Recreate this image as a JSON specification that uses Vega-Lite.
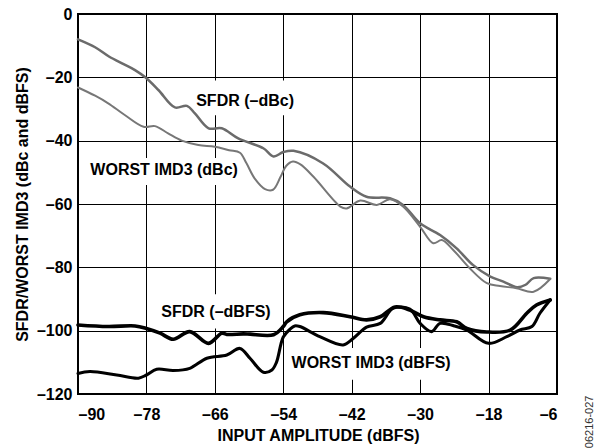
{
  "$schema": "https://vega.github.io/schema/vega-lite/v6.json",
  "width": 479,
  "height": 380,
  "autosize": {"type": "none"},
  "padding": {"left": 78, "top": 14, "right": 38, "bottom": 54},
  "background": "white",
  "config": {
    "view": {"stroke": "black", "strokeWidth": 2},
    "font": "Liberation Sans",
    "axis": {
      "grid": true, "gridColor": "black", "gridWidth": 1, "gridOpacity": 1,
      "domain": false, "ticks": false,
      "labelFont": "Liberation Sans", "labelFontSize": 16, "labelFontWeight": "bold", "labelColor": "black",
      "titleFont": "Liberation Sans", "titleFontSize": 16, "titleFontWeight": "bold", "titleColor": "black"
    }
  },
  "datasets": {
    "curves": [
      {"series": "SFDR dBc", "x": -90, "y": -8},
      {"series": "SFDR dBc", "x": -87, "y": -10.5},
      {"series": "SFDR dBc", "x": -84.5, "y": -13.5},
      {"series": "SFDR dBc", "x": -82, "y": -15.8},
      {"series": "SFDR dBc", "x": -80, "y": -17.7},
      {"series": "SFDR dBc", "x": -78.2, "y": -20},
      {"series": "SFDR dBc", "x": -75.9, "y": -24},
      {"series": "SFDR dBc", "x": -73, "y": -29.5},
      {"series": "SFDR dBc", "x": -70.9, "y": -29},
      {"series": "SFDR dBc", "x": -69.5, "y": -31.4},
      {"series": "SFDR dBc", "x": -67.1, "y": -36.1},
      {"series": "SFDR dBc", "x": -64.8, "y": -36.1},
      {"series": "SFDR dBc", "x": -61.9, "y": -39.3},
      {"series": "SFDR dBc", "x": -57.5, "y": -42.4},
      {"series": "SFDR dBc", "x": -55.7, "y": -45},
      {"series": "SFDR dBc", "x": -54, "y": -43.6},
      {"series": "SFDR dBc", "x": -52.2, "y": -43.2},
      {"series": "SFDR dBc", "x": -47, "y": -47.2},
      {"series": "SFDR dBc", "x": -42.3, "y": -54.5},
      {"series": "SFDR dBc", "x": -39.4, "y": -57.7},
      {"series": "SFDR dBc", "x": -35.3, "y": -58.2},
      {"series": "SFDR dBc", "x": -33, "y": -60.3},
      {"series": "SFDR dBc", "x": -30, "y": -66.1},
      {"series": "SFDR dBc", "x": -26.5, "y": -69.8},
      {"series": "SFDR dBc", "x": -23.6, "y": -74},
      {"series": "SFDR dBc", "x": -20.7, "y": -79.3},
      {"series": "SFDR dBc", "x": -17.7, "y": -82.9},
      {"series": "SFDR dBc", "x": -15.4, "y": -84.5},
      {"series": "SFDR dBc", "x": -13, "y": -86.3},
      {"series": "SFDR dBc", "x": -11.5, "y": -85.5},
      {"series": "SFDR dBc", "x": -10.1, "y": -83.4},
      {"series": "SFDR dBc", "x": -7.2, "y": -83.6},

      {"series": "IMD3 dBc", "x": -90, "y": -23.2},
      {"series": "IMD3 dBc", "x": -87, "y": -25.8},
      {"series": "IMD3 dBc", "x": -84.7, "y": -28.2},
      {"series": "IMD3 dBc", "x": -81.8, "y": -31.9},
      {"series": "IMD3 dBc", "x": -78.5, "y": -35.6},
      {"series": "IMD3 dBc", "x": -76.5, "y": -35.4},
      {"series": "IMD3 dBc", "x": -74.2, "y": -37.7},
      {"series": "IMD3 dBc", "x": -71.8, "y": -40},
      {"series": "IMD3 dBc", "x": -68.9, "y": -41.4},
      {"series": "IMD3 dBc", "x": -66, "y": -41.9},
      {"series": "IMD3 dBc", "x": -63.5, "y": -43},
      {"series": "IMD3 dBc", "x": -61.6, "y": -43.8},
      {"series": "IMD3 dBc", "x": -60.5, "y": -47},
      {"series": "IMD3 dBc", "x": -59, "y": -52},
      {"series": "IMD3 dBc", "x": -57.2, "y": -55.3},
      {"series": "IMD3 dBc", "x": -55.8, "y": -55.5},
      {"series": "IMD3 dBc", "x": -54.5, "y": -51.5},
      {"series": "IMD3 dBc", "x": -53.5, "y": -48},
      {"series": "IMD3 dBc", "x": -52.3, "y": -46.6},
      {"series": "IMD3 dBc", "x": -51, "y": -47.5},
      {"series": "IMD3 dBc", "x": -48.7, "y": -51.4},
      {"series": "IMD3 dBc", "x": -44, "y": -60.8},
      {"series": "IMD3 dBc", "x": -42.9, "y": -61.4},
      {"series": "IMD3 dBc", "x": -40.5, "y": -58.9},
      {"series": "IMD3 dBc", "x": -37.6, "y": -60.3},
      {"series": "IMD3 dBc", "x": -35.3, "y": -58.5},
      {"series": "IMD3 dBc", "x": -33, "y": -60.8},
      {"series": "IMD3 dBc", "x": -30, "y": -67.2},
      {"series": "IMD3 dBc", "x": -27.7, "y": -72.4},
      {"series": "IMD3 dBc", "x": -26.2, "y": -71.4},
      {"series": "IMD3 dBc", "x": -24.2, "y": -74.5},
      {"series": "IMD3 dBc", "x": -21.3, "y": -80.3},
      {"series": "IMD3 dBc", "x": -18.3, "y": -85},
      {"series": "IMD3 dBc", "x": -16, "y": -85.9},
      {"series": "IMD3 dBc", "x": -13.1, "y": -86.6},
      {"series": "IMD3 dBc", "x": -10.1, "y": -87.7},
      {"series": "IMD3 dBc", "x": -7.2, "y": -83.7},

      {"series": "SFDR dBFS", "x": -90, "y": -98.2},
      {"series": "SFDR dBFS", "x": -84.7, "y": -98.7},
      {"series": "SFDR dBFS", "x": -80, "y": -98.5},
      {"series": "SFDR dBFS", "x": -78, "y": -99.3},
      {"series": "SFDR dBFS", "x": -75.6, "y": -100.8},
      {"series": "SFDR dBFS", "x": -73.3, "y": -102.7},
      {"series": "SFDR dBFS", "x": -70.4, "y": -100.3},
      {"series": "SFDR dBFS", "x": -67.1, "y": -104},
      {"series": "SFDR dBFS", "x": -64.8, "y": -100.8},
      {"series": "SFDR dBFS", "x": -63.9, "y": -101.2},
      {"series": "SFDR dBFS", "x": -61, "y": -101},
      {"series": "SFDR dBFS", "x": -59.8, "y": -101.1},
      {"series": "SFDR dBFS", "x": -55.7, "y": -101.3},
      {"series": "SFDR dBFS", "x": -54, "y": -98.7},
      {"series": "SFDR dBFS", "x": -53.4, "y": -97.2},
      {"series": "SFDR dBFS", "x": -51.1, "y": -95},
      {"series": "SFDR dBFS", "x": -47, "y": -94.3},
      {"series": "SFDR dBFS", "x": -42.3, "y": -95.6},
      {"series": "SFDR dBFS", "x": -39.4, "y": -96.6},
      {"series": "SFDR dBFS", "x": -37, "y": -95.6},
      {"series": "SFDR dBFS", "x": -34.4, "y": -92.5},
      {"series": "SFDR dBFS", "x": -31.8, "y": -93.5},
      {"series": "SFDR dBFS", "x": -29.4, "y": -95.6},
      {"series": "SFDR dBFS", "x": -26.5, "y": -96.6},
      {"series": "SFDR dBFS", "x": -23.6, "y": -97.2},
      {"series": "SFDR dBFS", "x": -21.8, "y": -99.3},
      {"series": "SFDR dBFS", "x": -18.3, "y": -100.4},
      {"series": "SFDR dBFS", "x": -14.2, "y": -99.8},
      {"series": "SFDR dBFS", "x": -11.3, "y": -94.5},
      {"series": "SFDR dBFS", "x": -9.6, "y": -91.9},
      {"series": "SFDR dBFS", "x": -7.2, "y": -90.3},

      {"series": "IMD3 dBFS", "x": -90, "y": -113.5},
      {"series": "IMD3 dBFS", "x": -87.9, "y": -112.9},
      {"series": "IMD3 dBFS", "x": -83.2, "y": -114},
      {"series": "IMD3 dBFS", "x": -79.4, "y": -115},
      {"series": "IMD3 dBFS", "x": -78, "y": -114},
      {"series": "IMD3 dBFS", "x": -76.2, "y": -112.2},
      {"series": "IMD3 dBFS", "x": -73.3, "y": -112.6},
      {"series": "IMD3 dBFS", "x": -70.4, "y": -111.9},
      {"series": "IMD3 dBFS", "x": -67.4, "y": -108.7},
      {"series": "IMD3 dBFS", "x": -63.9, "y": -107.7},
      {"series": "IMD3 dBFS", "x": -61.6, "y": -105.6},
      {"series": "IMD3 dBFS", "x": -59.8, "y": -108.8},
      {"series": "IMD3 dBFS", "x": -57.5, "y": -113.1},
      {"series": "IMD3 dBFS", "x": -56, "y": -112.4},
      {"series": "IMD3 dBFS", "x": -55.2, "y": -110},
      {"series": "IMD3 dBFS", "x": -54, "y": -102},
      {"series": "IMD3 dBFS", "x": -52.8, "y": -99.5},
      {"series": "IMD3 dBFS", "x": -52, "y": -98.5},
      {"series": "IMD3 dBFS", "x": -51.1, "y": -98.7},
      {"series": "IMD3 dBFS", "x": -47.6, "y": -101.9},
      {"series": "IMD3 dBFS", "x": -43.5, "y": -104.5},
      {"series": "IMD3 dBFS", "x": -41.7, "y": -102.4},
      {"series": "IMD3 dBFS", "x": -39.4, "y": -98.9},
      {"series": "IMD3 dBFS", "x": -37, "y": -97.7},
      {"series": "IMD3 dBFS", "x": -34.7, "y": -92.9},
      {"series": "IMD3 dBFS", "x": -31.8, "y": -93.2},
      {"series": "IMD3 dBFS", "x": -30, "y": -97.7},
      {"series": "IMD3 dBFS", "x": -28, "y": -100.3},
      {"series": "IMD3 dBFS", "x": -26.5, "y": -97.7},
      {"series": "IMD3 dBFS", "x": -24, "y": -98.5},
      {"series": "IMD3 dBFS", "x": -21.8, "y": -99.8},
      {"series": "IMD3 dBFS", "x": -18, "y": -104},
      {"series": "IMD3 dBFS", "x": -14.8, "y": -101.9},
      {"series": "IMD3 dBFS", "x": -12.5, "y": -99.8},
      {"series": "IMD3 dBFS", "x": -10.4, "y": -98.7},
      {"series": "IMD3 dBFS", "x": -9, "y": -94.5},
      {"series": "IMD3 dBFS", "x": -7.2, "y": -90.3}
    ],
    "boxes": [
      {"x": -69.5, "x2": -51.8, "y": -21, "y2": -32},
      {"x": -88.5, "x2": -60.8, "y": -45.5, "y2": -54},
      {"x": -75.8, "x2": -55.8, "y": -88.5, "y2": -99.3},
      {"x": -52.5, "x2": -23.5, "y": -105.5, "y2": -115.5}
    ],
    "labels": [
      {"x": -60.7, "y": -27.4, "text": "SFDR (–dBc)"},
      {"x": -74.9, "y": -49.3, "text": "WORST IMD3 (dBc)"},
      {"x": -65.8, "y": -94, "text": "SFDR (–dBFS)"},
      {"x": -38.6, "y": -110.3, "text": "WORST IMD3 (dBFS)"}
    ]
  },
  "layer": [
    {
      "data": {"name": "boxes"},
      "mark": {"type": "rect", "fill": "white", "stroke": null},
      "encoding": {
        "x": {
          "field": "x", "type": "quantitative",
          "scale": {"domain": [-90, -6], "nice": false, "zero": false},
          "axis": {
            "values": [-90, -78, -66, -54, -42, -30, -18, -6],
            "labelExpr": "datum.value < 0 ? '–' + format(-datum.value, 'd') : format(datum.value, 'd')",
            "labelPadding": 12,
            "title": "INPUT AMPLITUDE (dBFS)",
            "titleX": 240, "titleY": 41, "titleBaseline": "middle", "titleAlign": "center"
          }
        },
        "x2": {"field": "x2"},
        "y": {
          "field": "y", "type": "quantitative",
          "scale": {"domain": [-120, 0], "nice": false, "zero": false},
          "axis": {
            "values": [-120, -100, -80, -60, -40, -20, 0],
            "labelExpr": "datum.value < 0 ? '–' + format(-datum.value, 'd') : format(datum.value, 'd')",
            "labelPadding": 6,
            "title": "SFDR/WORST IMD3 (dBc and dBFS)",
            "titleX": -56, "titleY": 190, "titleAngle": 270, "titleBaseline": "middle", "titleAlign": "center"
          }
        },
        "y2": {"field": "y2"}
      }
    },
    {
      "data": {"name": "curves"},
      "mark": {"type": "line", "interpolate": "catmull-rom", "strokeCap": "round", "strokeJoin": "round"},
      "encoding": {
        "x": {"field": "x", "type": "quantitative"},
        "y": {"field": "y", "type": "quantitative"},
        "color": {
          "field": "series", "type": "nominal", "legend": null,
          "scale": {"domain": ["IMD3 dBc", "SFDR dBc", "IMD3 dBFS", "SFDR dBFS"], "range": ["#777777", "#6b6b6b", "#000000", "#000000"]}
        },
        "strokeWidth": {
          "field": "series", "type": "nominal", "legend": null,
          "scale": {"domain": ["IMD3 dBc", "SFDR dBc", "IMD3 dBFS", "SFDR dBFS"], "range": [2, 3.6, 1.8, 3.4]}
        },
        "order": {"field": "x", "type": "quantitative"}
      }
    },
    {
      "data": {"name": "labels"},
      "mark": {"type": "text", "font": "Liberation Sans", "fontSize": 16, "fontWeight": "bold", "color": "black", "align": "center", "baseline": "middle"},
      "encoding": {
        "x": {"field": "x", "type": "quantitative"},
        "y": {"field": "y", "type": "quantitative"},
        "text": {"field": "text"}
      }
    },
    {
      "data": {"values": [{"code": "06216-027"}]},
      "mark": {"type": "text", "font": "Liberation Sans", "fontSize": 11, "color": "#333333", "angle": 270, "align": "center", "baseline": "middle"},
      "encoding": {
        "x": {"datum": -0.2, "type": "quantitative"},
        "y": {"datum": -128.8, "type": "quantitative"},
        "text": {"field": "code"}
      }
    }
  ]
}
